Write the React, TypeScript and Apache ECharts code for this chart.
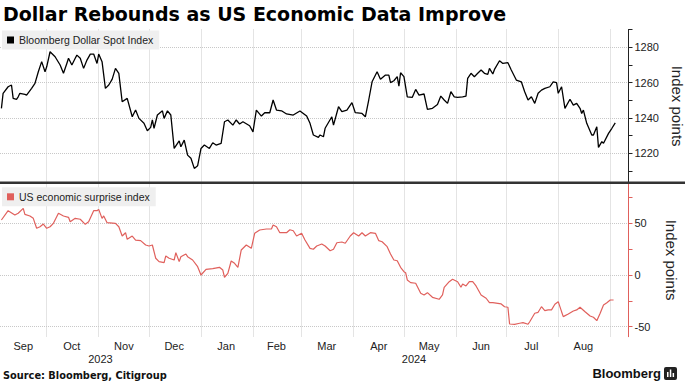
import React, { useEffect, useRef } from 'react';
import * as echarts from 'echarts';

const monthNames = ['Jan', 'Feb', 'Mar', 'Apr', 'May', 'Jun', 'Jul', 'Aug', 'Sep', 'Oct', 'Nov', 'Dec'];
const monthStartDates = ['2023-10-01', '2023-11-01', '2023-12-01', '2024-01-01', '2024-02-01', '2024-03-01', '2024-04-01', '2024-05-01', '2024-06-01', '2024-07-01', '2024-08-01', '2024-09-01'];
const monthLabelDates = ['2023-09-17', '2023-10-16', '2023-11-16', '2023-12-16', '2024-01-16', '2024-02-15', '2024-03-16', '2024-04-16', '2024-05-16', '2024-06-16', '2024-07-16', '2024-08-16'];
const yearLabelDates = ['2023-11-02', '2024-05-07'];
const axisStartStr = '2023-09-03T03:36:00';
const axisEndStr = '2024-09-11T21:36:00';

const dollarTicks = [1210, 1220, 1230, 1240, 1250, 1260, 1270, 1280, 1290];
const dollarLabels = [1220, 1240, 1260, 1280];
const surpriseTicks = [-50, -25, 0, 25, 50, 75];
const surpriseLabels = [-50, 0, 50];

const dollarDates = [
  '2023-09-04', '2023-09-05', '2023-09-08', '2023-09-10', '2023-09-11', '2023-09-13', '2023-09-14', '2023-09-15', '2023-09-18', '2023-09-19', '2023-09-22', '2023-09-24', '2023-09-26', '2023-09-28', '2023-09-30',
  '2023-10-01', '2023-10-03', '2023-10-06', '2023-10-09', '2023-10-11', '2023-10-13', '2023-10-14', '2023-10-16', '2023-10-18', '2023-10-19', '2023-10-21', '2023-10-23', '2023-10-25', '2023-10-27', '2023-10-29', '2023-10-31',
  '2023-11-01', '2023-11-03', '2023-11-05', '2023-11-07', '2023-11-09', '2023-11-11', '2023-11-13', '2023-11-15', '2023-11-18', '2023-11-21', '2023-11-23', '2023-11-25', '2023-11-28', '2023-11-30',
  '2023-12-02', '2023-12-03', '2023-12-04', '2023-12-06', '2023-12-09', '2023-12-10', '2023-12-12', '2023-12-14', '2023-12-16', '2023-12-19', '2023-12-20', '2023-12-22', '2023-12-24', '2023-12-26', '2023-12-28', '2023-12-30',
  '2024-01-01', '2024-01-03', '2024-01-06', '2024-01-08', '2024-01-10', '2024-01-13', '2024-01-15', '2024-01-17', '2024-01-20', '2024-01-22', '2024-01-24', '2024-01-26', '2024-01-30',
  '2024-02-01', '2024-02-03', '2024-02-06', '2024-02-08', '2024-02-11', '2024-02-13', '2024-02-15', '2024-02-18', '2024-02-21', '2024-02-25', '2024-02-29',
  '2024-03-04', '2024-03-06', '2024-03-08', '2024-03-11', '2024-03-12', '2024-03-14', '2024-03-15', '2024-03-19', '2024-03-20', '2024-03-23', '2024-03-25', '2024-03-28', '2024-03-31',
  '2024-04-02', '2024-04-06', '2024-04-08', '2024-04-10', '2024-04-12', '2024-04-15', '2024-04-17', '2024-04-20', '2024-04-22', '2024-04-23', '2024-04-25', '2024-04-27', '2024-04-28', '2024-04-29',
  '2024-05-01', '2024-05-03', '2024-05-06', '2024-05-08', '2024-05-10', '2024-05-13', '2024-05-15', '2024-05-18', '2024-05-21', '2024-05-23', '2024-05-25', '2024-05-27', '2024-05-29', '2024-05-31',
  '2024-06-02', '2024-06-05', '2024-06-07', '2024-06-08', '2024-06-10', '2024-06-12', '2024-06-14', '2024-06-16', '2024-06-18', '2024-06-20', '2024-06-21', '2024-06-23', '2024-06-24', '2024-06-27', '2024-06-29',
  '2024-07-02', '2024-07-04', '2024-07-07', '2024-07-10', '2024-07-12', '2024-07-14', '2024-07-16', '2024-07-18', '2024-07-20', '2024-07-22', '2024-07-24', '2024-07-27', '2024-07-29', '2024-07-31',
  '2024-08-01', '2024-08-03', '2024-08-05', '2024-08-08', '2024-08-10', '2024-08-12', '2024-08-14', '2024-08-15', '2024-08-16', '2024-08-18', '2024-08-21', '2024-08-22', '2024-08-24', '2024-08-25', '2024-08-27', '2024-08-28', '2024-08-31',
  '2024-09-02', '2024-09-04',
];
const dollarValues = [
  1245.5, 1254, 1257.7, 1258.7, 1251.1, 1250.6, 1252, 1254, 1253.4, 1253, 1256.8, 1259.6, 1266.2, 1271.9, 1266.2,
  1269, 1277.5, 1274.7, 1270, 1265.3, 1270.9, 1273.8, 1270, 1273.8, 1275.6, 1273.8, 1268.1, 1272.8, 1276.2, 1276.2, 1270.9,
  1276.2, 1271.9, 1256.8, 1258.7, 1261.9, 1268.1, 1265.3, 1249.2, 1251.1, 1240.7, 1244.5, 1239.8, 1237, 1232.8,
  1234.7, 1238.9, 1234.2, 1241.7, 1244.1, 1239.8, 1244.1, 1241.7, 1222.8, 1227.1, 1223.7, 1227.5, 1219, 1217.2, 1211.5, 1213,
  1222.8, 1224.7, 1222.8, 1226, 1224.7, 1225.7, 1237.9, 1238.9, 1236, 1238.9, 1236.6, 1237.9, 1235.6,
  1232.2, 1244.5, 1241.1, 1243, 1243, 1250.2, 1244.5, 1244.1, 1242.3, 1241.7, 1244,
  1241.1, 1237, 1230.4, 1229.1, 1230.4, 1229.4, 1234.2, 1240.7, 1236, 1246.4, 1243.6, 1244.5, 1248.7,
  1243, 1242.6, 1240.7, 1250.2, 1260.5, 1266.2, 1261.9, 1264.3, 1264.3, 1260, 1261.1, 1263.4, 1258.1, 1265.6,
  1263.4, 1252, 1251.7, 1256.2, 1253, 1253.6, 1244.9, 1245.5, 1247.7, 1252.4, 1250.2, 1248.3, 1254.9, 1252,
  1251.7, 1252, 1252.4, 1262.5, 1265.3, 1263.4, 1265.3, 1267.2, 1265.3, 1264.7, 1268.1, 1264.9, 1267.5, 1272.4, 1270.9,
  1271.3, 1267.2, 1261.5, 1260.5, 1254.9, 1250.2, 1252, 1248.3, 1254, 1255.8, 1256.8, 1257.7, 1260.5, 1260,
  1254, 1257.7, 1245.5, 1250.6, 1247.3, 1248.3, 1245.5, 1242.6, 1244.5, 1237, 1230.4, 1230.4, 1235.1, 1223.4, 1226.6, 1225.7, 1231.3,
  1234.2, 1237.3,
];

const surpriseDates = [
  '2023-09-04', '2023-09-08', '2023-09-12', '2023-09-14', '2023-09-17', '2023-09-18', '2023-09-21', '2023-09-23', '2023-09-25', '2023-09-27', '2023-09-29',
  '2023-10-01', '2023-10-03', '2023-10-05', '2023-10-08', '2023-10-11', '2023-10-14', '2023-10-15', '2023-10-18', '2023-10-21', '2023-10-24', '2023-10-26', '2023-10-29', '2023-10-31',
  '2023-11-01', '2023-11-03', '2023-11-04', '2023-11-06', '2023-11-11', '2023-11-13', '2023-11-15', '2023-11-17', '2023-11-18', '2023-11-21', '2023-11-23', '2023-11-26', '2023-11-29',
  '2023-12-01', '2023-12-03', '2023-12-05', '2023-12-07', '2023-12-10', '2023-12-11', '2023-12-13', '2023-12-16', '2023-12-17', '2023-12-19', '2023-12-20', '2023-12-23', '2023-12-24', '2023-12-27', '2023-12-30',
  '2024-01-01', '2024-01-04', '2024-01-08', '2024-01-12', '2024-01-14', '2024-01-15', '2024-01-17', '2024-01-19', '2024-01-21', '2024-01-23', '2024-01-25', '2024-01-28', '2024-01-31',
  '2024-02-02', '2024-02-05', '2024-02-09', '2024-02-12', '2024-02-13', '2024-02-15', '2024-02-17', '2024-02-21', '2024-02-23', '2024-02-25', '2024-02-27',
  '2024-03-01', '2024-03-03', '2024-03-06', '2024-03-08', '2024-03-10', '2024-03-13', '2024-03-15', '2024-03-18', '2024-03-20', '2024-03-22', '2024-03-25', '2024-03-27', '2024-03-30',
  '2024-04-01', '2024-04-04', '2024-04-06', '2024-04-08', '2024-04-11', '2024-04-14', '2024-04-16', '2024-04-18', '2024-04-21', '2024-04-23', '2024-04-25', '2024-04-27', '2024-04-29',
  '2024-05-01', '2024-05-02', '2024-05-03', '2024-05-05', '2024-05-08', '2024-05-11', '2024-05-13', '2024-05-15', '2024-05-18', '2024-05-22', '2024-05-24', '2024-05-25', '2024-05-28', '2024-05-30',
  '2024-06-02', '2024-06-04', '2024-06-05', '2024-06-07', '2024-06-09', '2024-06-11', '2024-06-13', '2024-06-16', '2024-06-19', '2024-06-21', '2024-06-23', '2024-06-26', '2024-06-28', '2024-06-30',
  '2024-07-02', '2024-07-03', '2024-07-06', '2024-07-09', '2024-07-11', '2024-07-14', '2024-07-15', '2024-07-18', '2024-07-20', '2024-07-22', '2024-07-24', '2024-07-26', '2024-07-28', '2024-07-30',
  '2024-08-01', '2024-08-03', '2024-08-04', '2024-08-07', '2024-08-10', '2024-08-12', '2024-08-14', '2024-08-17', '2024-08-20', '2024-08-22', '2024-08-24', '2024-08-26', '2024-08-28', '2024-08-30',
  '2024-09-01', '2024-09-03',
];
const surpriseValues = [
  53.2, 62.2, 58, 59.7, 64.5, 58.7, 57.1, 54.8, 45.2, 46.7, 49.3,
  45.2, 46.7, 50, 59.7, 57.1, 55.8, 51.5, 54.8, 53.9, 49, 51.5, 62.2, 62.2,
  63.5, 54.8, 57.1, 50.6, 50, 46.7, 37.7, 40.9, 34.5, 37.7, 33.8, 33.2, 29,
  28, 29, 16.2, 12.9, 11.9, 18.4, 16.2, 14.5, 21.6, 12.9, 17.7, 20.3, 17.7, 14.5, 8,
  0, 5.5, 6.1, 7.4, 4.8, -2.2, 1.6, 13.5, 11.3, 7.4, 24.2, 29, 25.8,
  40.3, 43.5, 44.5, 44.5, 48.4, 46.7, 40.9, 40.9, 43.8, 42.8, 37.7,
  40.3, 33.8, 25.8, 24.9, 28, 30, 28, 23.5, 24.9, 31.2, 31.9, 30.7, 37.7,
  40.9, 37.7, 40.9, 37.7, 40.9, 40.3, 33.2, 32.2, 27.4, 20.3, 14.5, 13.8, 7.4,
  3.2, 2.2, -4.8, -7.4, -8, -17.7, -19.3, -17.1, -21.6, -23.5, -19.3, -11.9, -6.5, -4.2,
  -6.5, -11.9, -8.7, -10.6, -6.5, -6.5, -10.6, -19.3, -22.5, -26.8, -26.8, -27.4, -28, -30.7,
  -31.2, -47.4, -47.7, -46.7, -46.1, -47.7, -45.2, -37, -36.1, -30.7, -34.5, -33.8, -33.8, -28.3,
  -25.8, -35.5, -40.3, -37.7, -34.8, -33.8, -31.2, -35.5, -39.7, -40.9, -44.2, -37, -29, -26.8,
  -24.2, -24.2,
];

const toTime = (s: string) => {
  const [y, m, d] = s.split('-').map(Number);
  return new Date(y, m - 1, d).getTime();
};

const FONT = '"Liberation Sans", Arial, sans-serif';
const RED = '#e0605c';
const GRID_COLOR = '#c8c8c8';

export default function App() {
  const ref = useRef<HTMLDivElement>(null);

  useEffect(() => {
    if (!ref.current) return;
    const chart = echarts.init(ref.current, undefined, { renderer: 'svg' });
    const xMin = new Date(axisStartStr).getTime();
    const xMax = new Date(axisEndStr).getTime();
    const dollarData = dollarDates.map((d, i) => [toTime(d), dollarValues[i]]);
    const surpriseData = surpriseDates.map((d, i) => [toTime(d), surpriseValues[i]]);

    const labelStyle = { fontSize: 11, color: '#222', fontFamily: FONT };
    const splitStyle = { show: true, lineStyle: { color: GRID_COLOR, type: 'dotted' as const, width: 1 } };
    const plain = (v: number) => String(v);

    chart.setOption({
      animation: false,
      textStyle: { fontFamily: FONT },
      grid: [
        { left: 0, top: 29.5, width: 628.5, height: 307.2, outerBoundsMode: 'none' },
        { left: 0, top: 29.5, width: 628.5, height: 153.2, outerBoundsMode: 'none' },
        { left: 0, top: 183.5, width: 628.5, height: 153.2, outerBoundsMode: 'none' },
      ],
      xAxis: [
        {
          type: 'value', gridIndex: 0, min: xMin, max: xMax, position: 'bottom',
          axisLine: { show: false, onZero: false },
          axisTick: { show: false, customValues: monthStartDates.map(toTime) },
          splitLine: splitStyle,
          axisLabel: {
            ...labelStyle, margin: 4,
            customValues: monthLabelDates.map(toTime),
            formatter: (v: number) => monthNames[new Date(v).getMonth()],
          },
        },
        {
          type: 'value', gridIndex: 0, min: xMin, max: xMax, position: 'bottom',
          axisLine: { show: false, onZero: false },
          axisTick: { show: false, customValues: yearLabelDates.map(toTime) },
          splitLine: { show: false },
          axisLabel: {
            ...labelStyle, margin: 17,
            customValues: yearLabelDates.map(toTime),
            formatter: (v: number) => String(new Date(v).getFullYear()),
          },
        },
        { type: 'value', gridIndex: 1, min: xMin, max: xMax, show: false },
        { type: 'value', gridIndex: 2, min: xMin, max: xMax, show: false },
      ],
      yAxis: [
        { type: 'value', gridIndex: 0, show: false },
        {
          type: 'value', gridIndex: 1, position: 'right', min: 1203.4, max: 1290.1,
          axisLine: { show: true, onZero: false, lineStyle: { color: '#222', width: 1 } },
          axisTick: { show: true, length: 4, customValues: dollarTicks, lineStyle: { color: '#222' } },
          axisLabel: { show: false },
          splitLine: { show: false },
        },
        {
          type: 'value', gridIndex: 1, position: 'right', min: 1203.4, max: 1290.1,
          axisLine: { show: false, onZero: false },
          axisTick: { show: false, customValues: dollarLabels },
          axisLabel: { ...labelStyle, margin: 6, customValues: dollarLabels, formatter: plain },
          splitLine: splitStyle,
          name: 'Index points', nameLocation: 'middle', nameRotate: -90, nameGap: 35,
          nameTextStyle: { fontSize: 15, color: '#222', fontFamily: FONT },
        },
        {
          type: 'value', gridIndex: 2, position: 'right', min: -59.7, max: 88.5,
          axisLine: { show: true, onZero: false, lineStyle: { color: RED, width: 1 } },
          axisTick: { show: true, length: 4, customValues: surpriseTicks, lineStyle: { color: RED } },
          axisLabel: { show: false },
          splitLine: { show: false },
        },
        {
          type: 'value', gridIndex: 2, position: 'right', min: -59.7, max: 88.5,
          axisLine: { show: false, onZero: false },
          axisTick: { show: false, customValues: surpriseLabels },
          axisLabel: { ...labelStyle, margin: 6, customValues: surpriseLabels, formatter: plain },
          splitLine: splitStyle,
          name: 'Index points', nameLocation: 'middle', nameRotate: -90, nameGap: 35,
          nameTextStyle: { fontSize: 15, color: '#222', fontFamily: FONT },
        },
      ],
      legend: [
        {
          data: ['Bloomberg Dollar Spot Index'], left: 2, top: 30.5, icon: 'rect',
          itemWidth: 7, itemHeight: 7, padding: [4, 6, 4, 5], backgroundColor: '#efefef',
          selectedMode: false, textStyle: { fontSize: 10.5, color: '#222', fontFamily: FONT },
        },
        {
          data: ['US economic surprise index'], left: 2, top: 187.3, icon: 'rect',
          itemWidth: 7, itemHeight: 7, padding: [4, 6, 4, 5], backgroundColor: '#efefef',
          selectedMode: false, textStyle: { fontSize: 10.5, color: '#222', fontFamily: FONT },
        },
      ],
      series: [
        {
          type: 'line', name: 'Bloomberg Dollar Spot Index', xAxisIndex: 2, yAxisIndex: 1,
          data: dollarData, symbol: 'none', showSymbol: false,
          lineStyle: { color: '#000', width: 1.3 }, itemStyle: { color: '#000' },
        },
        {
          type: 'line', name: 'US economic surprise index', xAxisIndex: 3, yAxisIndex: 3,
          data: surpriseData, symbol: 'none', showSymbol: false,
          lineStyle: { color: RED, width: 1.2 }, itemStyle: { color: RED },
        },
      ],
      graphic: [
        {
          type: 'text', x: 3, y: 14, z: 20,
          style: { text: 'Dollar Rebounds as US Economic Data Improve', fontSize: 19, fontWeight: 'bold', fontFamily: '"DejaVu Sans", sans-serif', fill: '#000', verticalAlign: 'middle' },
        },
        { type: 'rect', z: 20, shape: { x: 0, y: 181.5, width: 685, height: 2.5 }, style: { fill: '#333' } },
        {
          type: 'text', x: 3, y: 375.7, z: 20,
          style: { text: 'Source: Bloomberg, Citigroup', fontSize: 9.8, fontWeight: 'bold', fontFamily: '"DejaVu Sans", sans-serif', fill: '#111', verticalAlign: 'middle' },
        },
        {
          type: 'text', x: 661, y: 373.5, z: 20,
          style: { text: 'Bloomberg', fontSize: 13, fontWeight: 'bold', fontFamily: FONT, fill: '#111', align: 'right', verticalAlign: 'middle' },
        },
        { type: 'rect', z: 20, shape: { x: 664, y: 367, width: 13, height: 13, r: 2 }, style: { fill: '#222' } },
        { type: 'rect', z: 21, shape: { x: 667, y: 372, width: 1.5, height: 5 }, style: { fill: '#fff' } },
        { type: 'rect', z: 21, shape: { x: 669.8, y: 369.5, width: 1.5, height: 7.5 }, style: { fill: '#fff' } },
        { type: 'rect', z: 21, shape: { x: 672.6, y: 373, width: 1.5, height: 4 }, style: { fill: '#fff' } },
      ],
    });
    return () => chart.dispose();
  }, []);

  return (
    <div style={{ position: 'fixed', left: 0, top: 0, width: 685, height: 392, background: '#fff' }}>
      <div ref={ref} style={{ width: 685, height: 392 }} />
    </div>
  );
}
